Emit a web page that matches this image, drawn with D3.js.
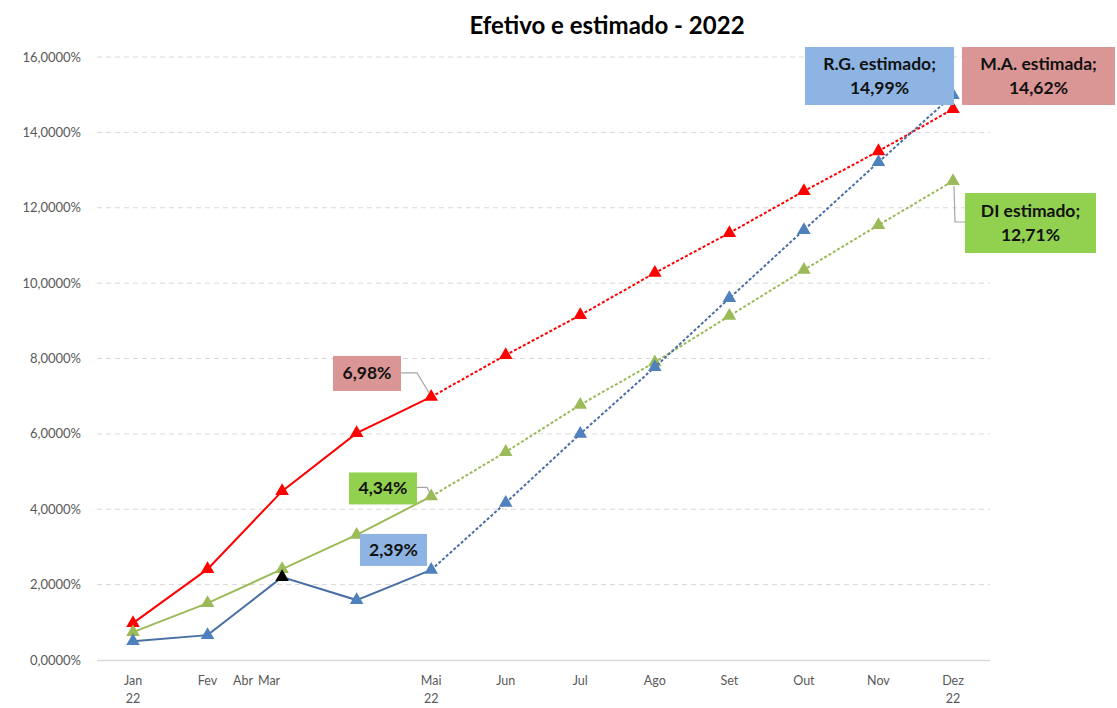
<!DOCTYPE html>
<html><head><meta charset="utf-8">
<script src="https://cdn.jsdelivr.net/npm/d3@7"></script>
<style>body{margin:0;background:#fff}svg{display:block}</style>
</head><body>
<svg id="c" width="1117" height="708"></svg>
<script>
const months = ["Jan","Fev","Mar","Abr","Mai","Jun","Jul","Ago","Set","Out","Nov","Dez"];
const monthLabels = ["Jan","Fev","Mar","","Mai","Jun","Jul","Ago","Set","Out","Nov","Dez"];
const yearLabels = ["22","","","","22","","","","","","","22"];
const extraLabel = "Abr";
const maValues = [0.98, 2.41, 4.48, 6.02, 6.98, 8.09, 9.15, 10.27, 11.33, 12.44, 13.50, 14.62];
const diValues = [0.74, 1.51, 2.41, 3.32, 4.34, 5.52, 6.77, 7.90, 9.13, 10.35, 11.54, 12.71];
const rgValues = [0.50, 0.66, 2.20, 1.59, 2.39, 4.17, 6.00, 7.77, 9.60, 11.41, 13.21, 14.99];
const yTicks = [0,2,4,6,8,10,12,14,16];
const lastActual = 4; // Mai: solid up to here, dotted afterwards
const title = "Efetivo e estimado - 2022";

const svg = d3.select("#c");
const x = d3.scalePoint().domain(d3.range(12)).range([133, 953]);
const y = d3.scaleLinear().domain([0,16]).range([660, 57]);
const font = "Lato, 'Open Sans', sans-serif";

svg.append("text").attr("x", 607).attr("y", 34).attr("text-anchor","middle")
  .attr("font-family", font).attr("font-weight","bold").attr("font-size", 24).attr("fill","#000").text(title);

// gridlines
svg.append("g").selectAll("line").data(yTicks.filter(d=>d>0)).join("line")
  .attr("x1", 97).attr("x2", 990).attr("y1", d=>y(d)).attr("y2", d=>y(d))
  .attr("stroke","#d9d9d9").attr("stroke-width",1).attr("stroke-dasharray","5,4");
svg.append("line").attr("x1",97).attr("x2",990).attr("y1",y(0)+0.5).attr("y2",y(0)+0.5)
  .attr("stroke","#d9d9d9").attr("stroke-width",1.5);

// y labels
const fmt = d => d.toFixed(4).replace(".", ",") + "%";
svg.append("g").selectAll("text").data(yTicks).join("text")
  .attr("x", 81).attr("y", d=>y(d)+4.5).attr("text-anchor","end")
  .attr("font-family", font).attr("font-size", 13).attr("fill","#595959").text(fmt);

// x labels
const xl = svg.append("g").attr("font-family", font).attr("font-size", 12.5).attr("fill","#595959").attr("text-anchor","middle");
monthLabels.forEach((m,i)=>{
  if(!m) return;
  const dx = (i===2) ? -13 : 0;
  xl.append("text").attr("x", x(i)+dx).attr("y", 685).text(m);
  if(yearLabels[i]) xl.append("text").attr("x", x(i)).attr("y", 703).text(yearLabels[i]);
});
xl.append("text").attr("x", x(2)-39).attr("y", 685).text(extraLabel);

const line = d3.line().x((d,i)=>x(d.i)).y(d=>y(d.v));
function drawSeries(vals, color, markerColor, special){
  const pts = vals.map((v,i)=>({i,v}));
  svg.append("path").datum(pts.slice(0,lastActual+1)).attr("d", line)
    .attr("fill","none").attr("stroke",color).attr("stroke-width",2);
  svg.append("path").datum(pts.slice(lastActual)).attr("d", line)
    .attr("fill","none").attr("stroke",color).attr("stroke-width",2).attr("stroke-dasharray","3,2");
  svg.append("g").selectAll("path").data(pts).join("path")
    .attr("d", d3.symbol(d3.symbolTriangle, 80))
    .attr("transform", d=>`translate(${x(d.i)},${y(d.v)})`)
    .attr("fill", d=> (special && special[d.i]) || markerColor);
}
drawSeries(maValues, "#ff0000", "#ff0000");
drawSeries(diValues, "#9bbb59", "#9bbb59");
drawSeries(rgValues, "#4a6fa5", "#4f81bd", {2:"#000"});

const pct = v => v.toFixed(2).replace(".", ",") + "%";
function box(x0, y0, w, h, fill, lines){
  svg.append("rect").attr("x",x0).attr("y",y0).attr("width",w).attr("height",h).attr("fill",fill);
  lines.forEach((t,k)=>{
    svg.append("text").attr("x", x0+w/2).attr("y", y0 + h/2 + 6 + (k - (lines.length-1)/2)*24)
      .attr("text-anchor","middle").attr("font-family",font).attr("font-weight","bold")
      .attr("font-size",17.5).attr("fill","#111").text(t);
  });
}
function leader(pts){
  svg.append("polyline").attr("points", pts.map(p=>p.join(",")).join(" "))
    .attr("fill","none").attr("stroke","#a6a6a6").attr("stroke-width",1.2);
}
// Mai labels
const xm = x(lastActual);
leader([[401, y(maValues[4])-24],[417, y(maValues[4])-24],[xm-2, y(maValues[4])-4]]);
box(333, y(maValues[4])-41, 68, 35, "#da9694", [pct(maValues[4])]);
leader([[417, y(diValues[4])-9],[427, y(diValues[4])-9],[xm-1, y(diValues[4])-3]]);
box(349, y(diValues[4])-24, 68, 32, "#92d050", [pct(diValues[4])]);
box(360, y(rgValues[4])-36, 67, 32, "#8db4e2", [pct(rgValues[4])]);
// Dez labels
const xd = x(11);
leader([[xd+1, y(diValues[11])+5],[xd+2, y(diValues[11])+41],[965, y(diValues[11])+41]]);
box(965, y(diValues[11])+12, 131, 60, "#92d050", ["DI estimado;", pct(diValues[11])]);
box(805, 47, 149, 58, "#8db4e2", ["R.G. estimado;", pct(rgValues[11])]);
box(962, 47, 153, 58, "#da9694", ["M.A. estimada;", pct(maValues[11])]);
</script>
</body></html>
